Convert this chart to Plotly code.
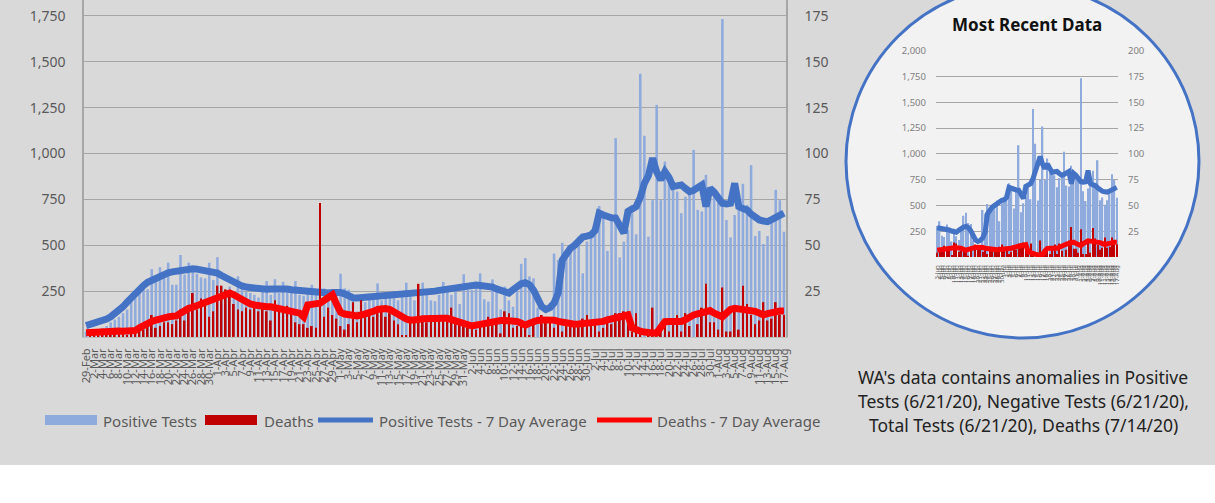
import pandas as pd
import plotly.graph_objects as go

# ---------------- data ----------------
dates = pd.date_range("2020-02-29", "2020-08-17", freq="D")
categories = [f"{d.day}-{d.strftime('%b')}" for d in dates]

positive_tests = [
    30, 20, 40, 35, 50, 60, 80, 95, 110, 130, 150, 200, 220, 255, 290, 260, 370, 310, 380, 340,
    405, 285, 285, 447, 340, 405, 385, 345, 325, 320, 405, 310, 435, 275, 255, 275, 250, 330, 270, 245,
    240, 230, 215, 260, 305, 230, 315, 240, 300, 250, 240, 305, 230, 225, 240, 285, 230, 270, 265, 255,
    255, 245, 345, 265, 258, 200, 140, 210, 190, 230, 220, 292, 200, 230, 215, 240, 200, 230, 296, 250,
    200, 230, 296, 240, 200, 195, 230, 300, 270, 230, 250, 180, 342, 256, 256, 300, 347, 206, 193, 314,
    250, 150, 275, 200, 165, 250, 399, 430, 330, 320, 160, 110, 80, -15, 455, 420, 514, 430, 470, 520,
    547, 347, 520, 560, 611, 714, 675, 469, 640, 1084, 434, 520, 584, 675, 560, 1435, 1097, 547, 746, 1265,
    746, 956, 856, 802, 793, 675, 765, 784, 1020, 693, 684, 884, 756, 775, 760, 1733, 638, 543, 665, 738,
    835, 720, 937, 550, 578, 507, 550, 646, 802, 746, 574,
]

deaths = [
    0, 1, 1, 2, 1, 2, 1, 3, 2, 2, 1, 3, 4, 5, 4, 6, 12, 5, 6, 8,
    8, 7, 9, 15, 9, 14, 24, 15, 21, 19, 11, 14, 28, 28, 26, 22, 18, 15, 14, 16,
    15, 16, 14, 16, 14, 9, 20, 14, 14, 17, 14, 8, 7, 7, 5, 6, 5, 73, 11, 16,
    12, 10, 6, 4, 7, 19, 8, 20, 13, 12, 11, 16, 17, 11, 13, 9, 7, 1, 1, 9,
    8, 29, 10, 8, 12, 9, 9, 10, 9, 16, 9, 8, 6, 5, 5, 4, 6, 7, 11, 8,
    9, 2, 14, 13, 5, 6, 8, 5, 1, 10, -2, 12, 10, 9, 5, 8, 3, 9, 6, 8,
    7, 10, 12, 6, 8, 3, 5, 11, 7, 13, 13, 14, 14, 3, 13, 2, -3, 3, 16, 1,
    6, 9, 3, 8, 12, 3, 13, 6, -1, 7, 16, 29, 8, 8, 4, 27, 3, 3, 17, 4,
    28, 18, 12, 7, 9, 19, 9, 10, 19, 12, 12,
]

positive_avg = [
    62, 68, 74, 80, 88, 98, 110, 125, 145, 165, 190, 215, 240, 260, 280, 298, 310, 322, 332, 342,
    350, 355, 360, 365, 368, 370, 372, 370, 366, 364, 365, 360, 348, 335, 322, 310, 298, 288, 278, 272,
    268, 264, 260, 258, 260, 262, 264, 265, 264, 262, 258, 255, 252, 250, 248, 245, 242, 240, 238, 240,
    242, 244, 242, 235, 222, 214, 212, 214, 216, 217, 214, 215, 217, 218, 220, 224, 227, 229, 230, 232,
    233, 234, 238, 242, 246, 250, 254, 258, 262, 265, 270, 276, 280, 284, 284, 283, 281, 279, 278, 272,
    262, 252, 245, 240, 258, 278, 290, 296, 285, 256, 200, 165, 150, 160, 185, 240, 420, 456, 484, 500,
    520, 545, 550, 556, 580, 675, 665, 655, 650, 648, 600, 566, 684, 695, 711, 760, 838, 880, 975, 900,
    857, 902, 870, 820, 826, 829, 810, 793, 800, 815, 829, 711, 811, 790, 760, 729, 725, 729, 838, 711,
    700, 693, 670, 650, 638, 632, 629, 640, 652, 665, 675,
]

deaths_avg = [
    2.3, 2.5, 2.8, 3.0, 3.0, 3.2, 3.2, 3.3, 3.3, 3.2, 3.3, 3.4, 3.5, 5.0, 6.5, 7.5, 8.5, 9.2, 10.0, 10.5,
    11.0, 11.3, 11.5, 13.0, 14.5, 15.6, 16.2, 17.0, 17.5, 18.5, 19.5, 20.5, 21.5, 22.5, 23.3, 24.0, 23.0, 21.5, 20.0, 19.0,
    18.0, 17.5, 17.0, 16.7, 16.5, 16.5, 16.0, 15.6, 15.3, 15.0, 14.7, 14.4, 13.0, 11.0, 17.5, 17.8, 18.0, 18.4, 20.0, 22.0,
    23.0, 18.0, 13.5, 12.5, 12.0, 11.5, 11.5, 12.0, 12.5, 13.0, 14.0, 15.0, 15.6, 15.5, 15.0, 13.5, 12.0, 10.7, 9.8, 9.2,
    9.0, 9.5, 10.0, 10.2, 10.2, 10.0, 10.0, 10.2, 10.2, 9.5, 8.5, 7.5, 6.8, 6.2, 6.0, 6.5, 7.0, 7.5, 8.0, 8.5,
    8.9, 9.0, 9.0, 8.9, 8.9, 8.5, 7.5, 6.5, 7.5, 8.5, 9.0, 9.3, 9.5, 9.6, 9.2, 8.5, 8.0, 7.5, 7.2, 7.0,
    7.1, 7.2, 7.3, 7.5, 7.7, 7.8, 8.5, 9.3, 10.0, 10.6, 11.0, 11.5, 12.0, 5.0, 3.8, 3.2, 2.7, 2.0, 2.2, 2.3,
    6.0, 8.4, 8.5, 8.3, 8.4, 8.4, 9.5, 11.0, 12.0, 12.6, 13.2, 13.8, 14.4, 13.0, 11.5, 11.0, 13.0, 15.0, 15.6, 15.4,
    15.2, 15.1, 15.0, 14.0, 13.0, 12.0, 12.8, 13.5, 14.0, 14.2, 14.2,
]

left_ticks = [250, 500, 750, 1000, 1250, 1500, 1750]
right_ticks = [25, 50, 75, 100, 125, 150, 175]
inset_left_ticks = [250, 500, 750, 1000, 1250, 1500, 1750, 2000]
inset_right_ticks = [25, 50, 75, 100, 125, 150, 175, 200]
inset_start = 95

legend_names = ["Positive Tests", "Deaths", "Positive Tests - 7 Day Average", "Deaths - 7 Day Average"]
note_lines = [
    "WA's data contains anomalies in Positive",
    "Tests (6/21/20), Negative Tests (6/21/20),",
    "Total Tests (6/21/20), Deaths (7/14/20)",
]

# ---------------- styling ----------------
W, H = 1215, 503
FONT = "Noto Sans"
LBLUE, DRED, BLUE, RED = "#8faadc", "#c00000", "#4472c4", "#ff0000"
GRID = "#a6a6a6"
TXT = "#595959"


def fx(px):
    return px / W


def fy(py):
    return 1 - py / H


fig = go.Figure()

# main chart
fig.add_trace(go.Bar(x=categories, y=positive_tests, marker=dict(color=LBLUE, line=dict(width=0)),
                     width=0.62, xaxis="x", yaxis="y", name=legend_names[0], showlegend=False))
fig.add_trace(go.Scatter(x=categories, y=positive_avg, mode="lines", line=dict(color=BLUE, width=7),
                         xaxis="x", yaxis="y", name=legend_names[2], showlegend=False))
fig.add_trace(go.Bar(x=categories, y=deaths, marker=dict(color=DRED, line=dict(width=0)),
                     width=0.42, xaxis="x", yaxis="y2", name=legend_names[1], showlegend=False))
fig.add_trace(go.Scatter(x=categories, y=deaths_avg, mode="lines", line=dict(color=RED, width=7),
                         xaxis="x", yaxis="y2", name=legend_names[3], showlegend=False))

# inset chart (most recent data)
ic = categories[inset_start:]
fig.add_trace(go.Bar(x=ic, y=positive_tests[inset_start:], marker=dict(color=LBLUE, line=dict(width=0)),
                     width=0.6, xaxis="x3", yaxis="y3", showlegend=False))
fig.add_trace(go.Scatter(x=ic, y=positive_avg[inset_start:], mode="lines", line=dict(color=BLUE, width=5),
                         xaxis="x3", yaxis="y3", showlegend=False))
fig.add_trace(go.Bar(x=ic, y=deaths[inset_start:], marker=dict(color=DRED, line=dict(width=0)),
                     width=0.45, xaxis="x3", yaxis="y4", showlegend=False))
fig.add_trace(go.Scatter(x=ic, y=deaths_avg[inset_start:], mode="lines", line=dict(color=RED, width=5),
                         xaxis="x3", yaxis="y4", showlegend=False))

shapes = [
    dict(type="rect", xref="paper", yref="paper", x0=0, x1=1, y0=fy(465), y1=1,
         fillcolor="#d9d9d9", line=dict(width=0), layer="below"),
    dict(type="circle", xref="paper", yref="paper", x0=fx(846), x1=fx(1199), y0=fy(338), y1=fy(-15),
         fillcolor="#f2f2f2", line=dict(color=BLUE, width=3), layer="below"),
    # legend keys
    dict(type="rect", xref="paper", yref="paper", x0=fx(45), x1=fx(97), y0=fy(425), y1=fy(415),
         fillcolor=LBLUE, line=dict(width=0)),
    dict(type="rect", xref="paper", yref="paper", x0=fx(205), x1=fx(257), y0=fy(425), y1=fy(415),
         fillcolor=DRED, line=dict(width=0)),
    dict(type="line", xref="paper", yref="paper", x0=fx(318), x1=fx(373), y0=fy(420), y1=fy(420),
         line=dict(color=BLUE, width=5)),
    dict(type="line", xref="paper", yref="paper", x0=fx(597), x1=fx(652), y0=fy(420), y1=fy(420),
         line=dict(color=RED, width=5)),
]

annotations = [
    dict(text="<b>Most Recent Data</b>", x=fx(1027), y=fy(25), xref="paper", yref="paper",
         showarrow=False, font=dict(family=FONT, size=17, color="#111111"), xanchor="center", yanchor="middle"),
]
for txt, xpos in zip(legend_names, [101, 262, 377, 655]):
    annotations.append(dict(text=txt, x=fx(xpos), y=fy(421), xref="paper", yref="paper", showarrow=False,
                            font=dict(family=FONT, size=15, color=TXT), xanchor="left", yanchor="middle"))
for txt, ypos in zip(note_lines, [377, 401, 425]):
    annotations.append(dict(text=txt, x=fx(1023), y=fy(ypos), xref="paper", yref="paper", showarrow=False,
                            font=dict(family=FONT, size=17.5, color="#222222"), xanchor="center", yanchor="middle"))

fig.update_layout(
    width=W, height=H,
    margin=dict(l=0, r=0, t=0, b=0, pad=0),
    paper_bgcolor="white", plot_bgcolor="rgba(0,0,0,0)",
    barmode="overlay", showlegend=False,
    font=dict(family=FONT, color=TXT),
    shapes=shapes, annotations=annotations,
    xaxis=dict(domain=[fx(84), fx(786)], anchor="y", type="category", range=[-0.5, len(categories) - 0.5],
               tickmode="array", tickvals=categories[::2], ticktext=categories[::2], tickangle=-90,
               tickfont=dict(family=FONT, size=11, color=TXT), showgrid=False, showline=True,
               linecolor="#bfbfbf", linewidth=1, ticks="", ticklabelstandoff=6, automargin=False),
    yaxis=dict(domain=[fy(337), 1], anchor="x", range=[0, 1837], tickmode="array", tickvals=left_ticks,
               tickformat=",", tickfont=dict(family=FONT, size=14, color=TXT), showgrid=True, gridcolor=GRID,
               gridwidth=1, showline=True, linecolor=GRID, linewidth=1.5, zeroline=False, ticklabelstandoff=14,
               automargin=False),
    yaxis2=dict(overlaying="y", side="right", anchor="x", range=[0, 183.7], tickmode="array", tickvals=right_ticks,
                tickfont=dict(family=FONT, size=14, color=TXT), showgrid=False, showline=True, linecolor=GRID,
                linewidth=1.5, zeroline=False, ticklabelstandoff=14, automargin=False),
    xaxis3=dict(domain=[fx(936), fx(1118)], anchor="y3", type="category", range=[-0.5, len(ic) - 0.5],
                tickmode="array", tickvals=ic, ticktext=ic, tickangle=-90,
                tickfont=dict(family=FONT, size=6, color="#555555"), showgrid=False, showline=False, ticks="",
                ticklabelstandoff=6, automargin=False),
    yaxis3=dict(domain=[fy(257), fy(50.7)], anchor="x3", range=[0, 2000], tickmode="array", tickvals=inset_left_ticks,
                tickformat=",", tickfont=dict(family=FONT, size=9.5, color="#7f7f7f"), showgrid=True, gridcolor=GRID,
                showline=False, zeroline=False, ticklabelstandoff=9, automargin=False),
    yaxis4=dict(overlaying="y3", side="right", anchor="x3", range=[0, 200], tickmode="array", tickvals=inset_right_ticks,
                tickfont=dict(family=FONT, size=9.5, color="#7f7f7f"), showgrid=False, showline=False, zeroline=False,
                ticklabelstandoff=9, automargin=False),
)

post = (
    "document.documentElement.style.margin='0';document.documentElement.style.padding='0';"
    "document.documentElement.style.overflow='hidden';"
    "document.body.style.margin='0';document.body.style.padding='0';document.body.style.overflow='hidden';"
    "var g=document.getElementsByClassName('plotly-graph-div')[0];"
    "g.style.position='fixed';g.style.left='0px';g.style.top='0px';"
)

fig.write_html("out.html", config={"displayModeBar": False}, post_script=post)
